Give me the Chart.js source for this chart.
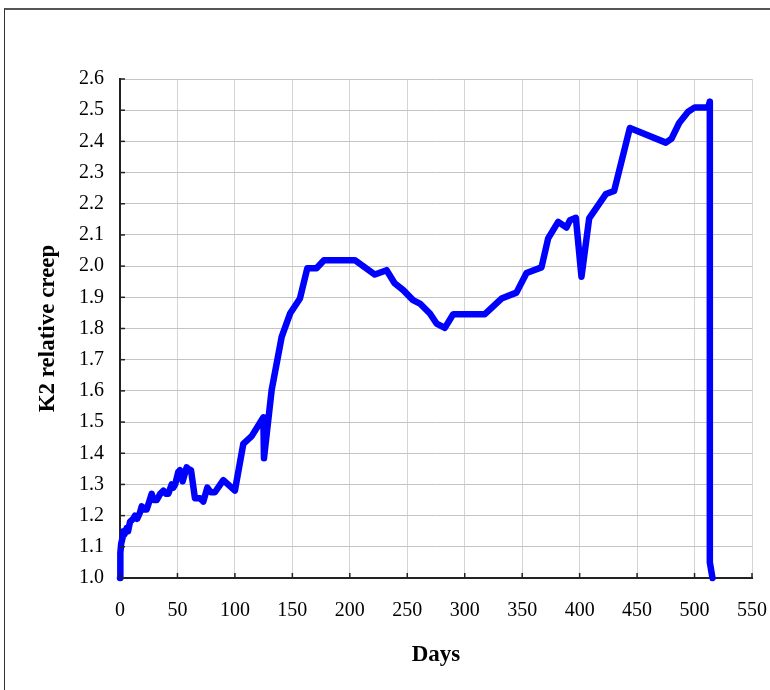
<!DOCTYPE html>
<html>
<head>
<meta charset="utf-8">
<script src="https://cdn.jsdelivr.net/npm/chart.js@4/dist/chart.umd.min.js"></script>
<style>
  html, body { margin: 0; padding: 0; background: #fff; overflow: hidden; }
  #wrap { position: relative; width: 770px; height: 690px; }
  #frame { position: absolute; left: 4px; top: 8px; width: 800px; height: 700px;
           border-left: 1px solid #333; border-top: 2px solid #555; }
  canvas { position: absolute; left: 0; top: 0; }
</style>
</head>
<body>
<div id="wrap">
  <div id="frame"></div>
  <canvas id="grafico" width="770" height="690"></canvas>
</div>
<script>
// dados (dias x fluência relativa K2)
var dias = [0, 0, 0.6, 1, 2.3, 3, 4, 5.8, 7, 8.7, 11.6, 13, 15, 17.4, 18.9, 21, 23.2, 25, 27.6, 29,
  31.9, 35, 37.7, 40, 42, 45, 46.4, 48, 50.7, 52.2, 54.5, 58, 59.4, 61.8, 65.2, 69.6, 72.5, 76,
  78.9, 82.6, 89.9, 100, 107.3, 114.6, 124.7, 125.3, 132, 140.7, 148, 156.6, 163, 171, 177.5,
  204.4, 221.8, 232, 239, 246.5, 255, 261, 269.7, 275.5, 282.7, 290, 317.5, 332, 345, 353.8,
  366.8, 372.6, 381.3, 388.6, 391.5, 396.7, 401.6, 408.3, 422.8, 430, 443.7, 475, 480, 486.6,
  494.4, 500.2, 511.8, 513.3, 513.3, 515.6];
var fluencia = [1.0, 1.03, 1.08, 1.11, 1.13, 1.15, 1.14, 1.16, 1.15, 1.18, 1.19, 1.2, 1.19, 1.21,
  1.23, 1.22, 1.22, 1.24, 1.27, 1.25, 1.25, 1.27, 1.28, 1.27, 1.27, 1.3, 1.29, 1.3, 1.34, 1.346,
  1.31, 1.355, 1.35, 1.346, 1.256, 1.256, 1.245, 1.29, 1.275, 1.275, 1.314, 1.28, 1.43, 1.455,
  1.515, 1.384, 1.603, 1.773, 1.848, 1.896, 1.993, 1.993, 2.019, 2.019, 1.973, 1.987, 1.945,
  1.923, 1.891, 1.88, 1.848, 1.816, 1.802, 1.846, 1.846, 1.896, 1.915, 1.978, 1.996, 2.089,
  2.142, 2.124, 2.147, 2.155, 1.966, 2.153, 2.231, 2.241, 2.443, 2.396, 2.409, 2.459, 2.495,
  2.509, 2.509, 2.527, 1.05, 1.0];
var xMin = 0, xMax = 550, xPasso = 50;
var yMin = 1.0, yMax = 2.6, yPasso = 0.1;

var pontos = dias.map((d, i) => ({ x: d, y: fluencia[i] }));
var fonte = "'Liberation Serif', 'Times New Roman', serif";

// marcas curtas para dentro nos eixos
var marcasInternas = {
  id: "marcasInternas",
  afterDatasetsDraw(chart) {
    const { ctx, chartArea, scales } = chart;
    ctx.save();
    ctx.strokeStyle = "#222";
    ctx.lineWidth = 1.5;
    scales.x.ticks.forEach(t => {
      const px = scales.x.getPixelForValue(t.value);
      ctx.beginPath(); ctx.moveTo(px, chartArea.bottom); ctx.lineTo(px, chartArea.bottom - 5); ctx.stroke();
    });
    scales.y.ticks.forEach(t => {
      const py = scales.y.getPixelForValue(t.value);
      ctx.beginPath(); ctx.moveTo(chartArea.left, py); ctx.lineTo(chartArea.left + 5, py); ctx.stroke();
    });
    ctx.restore();
  }
};

new Chart(document.getElementById("grafico"), {
  type: "scatter",
  data: {
    datasets: [{
      data: pontos,
      showLine: true,
      borderColor: "#0000ff",
      backgroundColor: "#0000ff",
      borderWidth: 6.5,
      borderJoinStyle: "round",
      borderCapStyle: "round",
      pointRadius: 0,
      tension: 0,
      clip: false
    }]
  },
  options: {
    responsive: false, animation: false,
    layout: { padding: { left: 10, top: 79, right: 18, bottom: 0 } },
    plugins: { legend: { display: false }, tooltip: { enabled: false } },
    scales: {
      x: {
        type: "linear", min: xMin, max: xMax,
        afterFit: s => { s.height = 112; s.paddingLeft = 0; s.paddingRight = 0; },
        ticks: { stepSize: xPasso, color: "#000", padding: 21, maxRotation: 0,
                 font: { family: fonte, size: 20 } },
        grid: { color: "#d4d4d4", lineWidth: 1, drawTicks: false },
        border: { color: "#222", width: 2 },
        title: { display: true, text: "Days", color: "#000", padding: { top: 0, bottom: 21 },
                 font: { family: fonte, size: 23, weight: "bold" } }
      },
      y: {
        type: "linear", min: yMin, max: yMax,
        afterFit: s => { s.width = 110; s.paddingTop = 0; s.paddingBottom = 0; },
        ticks: { stepSize: yPasso, color: "#000", padding: 16,
                 callback: v => Number(v).toFixed(1),
                 font: { family: fonte, size: 20 } },
        grid: { color: "#c4c4c4", lineWidth: 1, drawTicks: false },
        border: { color: "#222", width: 2 },
        title: { display: true, text: "K2 relative creep", color: "#000", padding: { top: 24, bottom: 0 },
                 font: { family: fonte, size: 23, weight: "bold" } }
      }
    }
  },
  plugins: [marcasInternas]
});
</script>
</body>
</html>
